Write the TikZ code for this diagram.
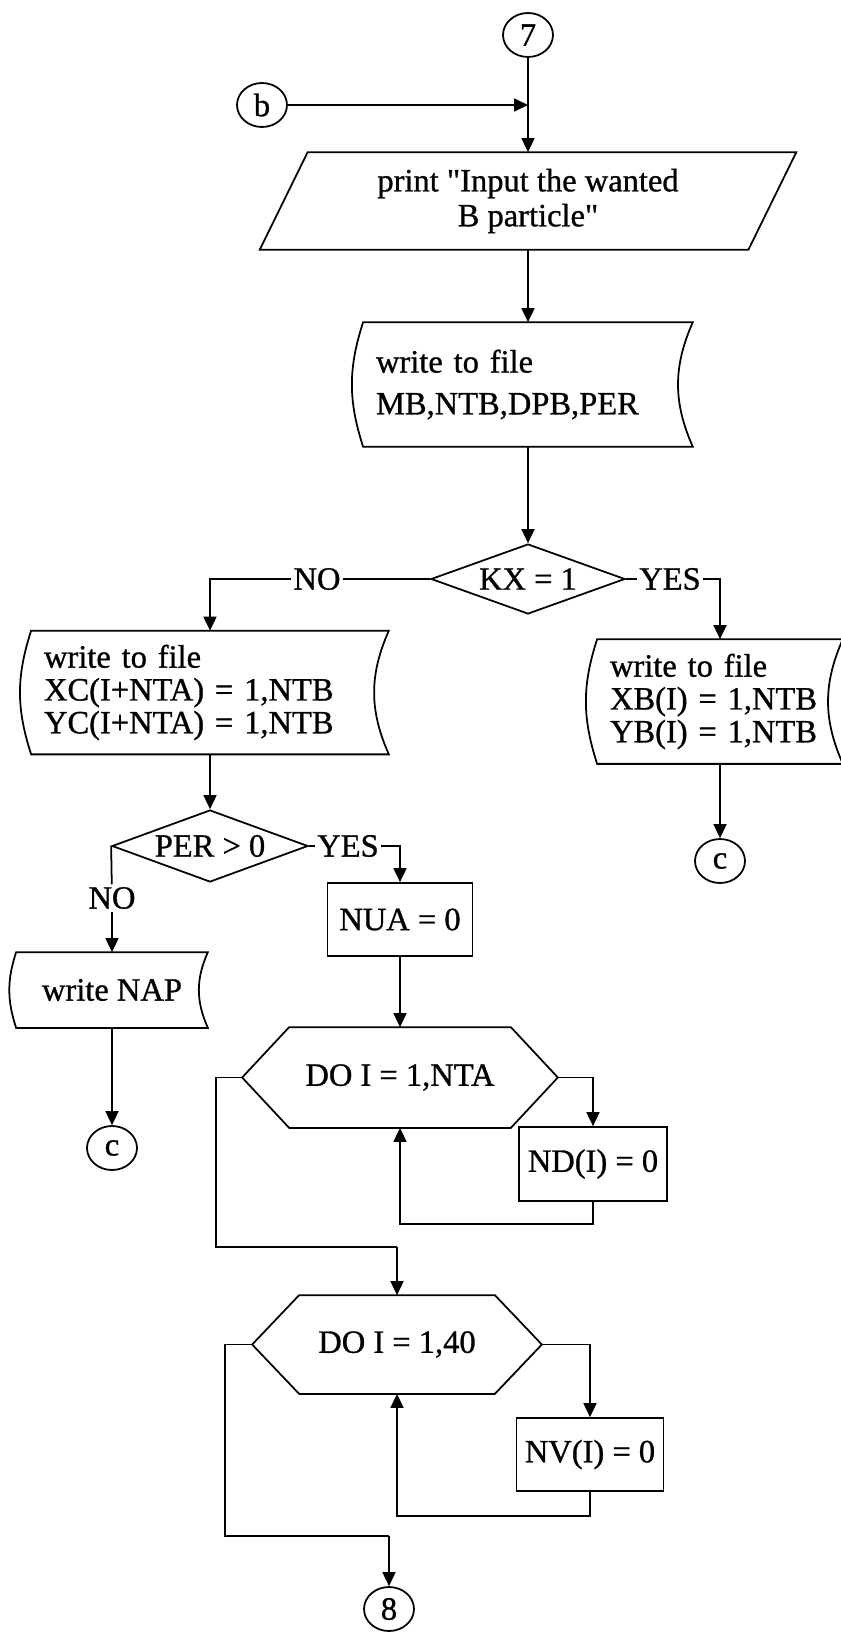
\documentclass[tikz,border=0pt]{standalone}
\usepackage{fontspec}
\setmainfont[UprightFeatures={FakeBold=0.9}]{Liberation Serif}
\usetikzlibrary{shapes.geometric,arrows.meta}
\tikzset{>={Triangle[length=0.28cm,width=0.26cm]}}
\tikzset{
  every node/.style={font=\fontsize{18.5}{19.9}\selectfont},
  link/.style={ellipse,draw,minimum width=1cm,minimum height=0.88cm,inner sep=0pt},
  decide/.style={diamond,draw,inner sep=0pt},
  proc/.style={rectangle,draw,inner sep=0pt},
  store/.style={inner xsep=0.24cm,inner ysep=0pt,align=left,font=\fontsize{18.5}{18.7}\selectfont},
  lbl/.style={inner sep=1pt}
}

\begin{document}
\begin{tikzpicture}[x=0.02cm,y=-0.02cm,line width=1pt]
  \useasboundingbox (0,0) rectangle (841,1632);
  \clip (0,0) rectangle (841,1632);

  % entry
  \node[link] (c7) at (528,35) {7};
  \node[link] (cb) at (262,105) {b};
  \coordinate (jb) at (528,105);

  \node[minimum width=8.78cm,minimum height=1.92cm,inner sep=0pt,align=center] (prt) at (528,201) {print \textquotedbl Input the wanted\\B particle\textquotedbl};
  \draw (prt.north west) -- ([xshift=0.96cm]prt.north east) -- (prt.south east) -- ([xshift=-0.96cm]prt.south west) -- cycle;
  \draw[->] (c7) -- (prt);
  \draw[->] (cb) -- (jb);

  \node[store,text width=6.08cm,minimum height=2.46cm,font=\fontsize{18.5}{23.8}\selectfont] (mb) at (528,384.5) {write to file\\MB,NTB,DPB,PER};
  \draw (mb.north west) to[bend right=18] (mb.south west) -- (mb.south east) to[bend left=24] (mb.north east) -- cycle;
  \draw[->] (prt) -- (mb);

  \node[decide,aspect=2.77,minimum width=3.88cm,minimum height=1.4cm] (kx) at (528,579) {KX = 1};
  \draw[->] (mb) -- (kx);

  % KX branches
  \node[lbl] (no1) at (317,579) {NO};
  \node[lbl] (yes1) at (670,579) {YES};

  \node[store,text width=6.64cm,minimum height=2.44cm] (xc) at (210,692.5) {write to file\\XC(I+NTA) = 1,NTB\\YC(I+NTA) = 1,NTB};
  \draw (xc.north west) to[bend right=18] (xc.south west) -- (xc.south east) to[bend left=24] (xc.north east) -- cycle;

  \node[store,text width=4.4cm,minimum height=2.46cm] (xb) at (720,701.5) {write to file\\XB(I) = 1,NTB\\YB(I) = 1,NTB};
  \draw (xb.north west) to[bend right=18] (xb.south west) -- (xb.south east) to[bend left=24] (xb.north east) -- cycle;

  \draw (kx.west) -- (no1);
  \draw[->] (no1) -| (xc.north);
  \draw (kx.east) -- (yes1);
  \draw[->] (yes1) -| (xb.north);

  \node[link] (cc1) at (720,861) {c};
  \draw[->] (xb) -- (cc1);

  % PER test
  \node[decide,aspect=2.72,minimum width=3.92cm,minimum height=1.44cm] (per) at (210,846) {PER > 0};
  \draw[->] (xc) -- (per);
  \node[lbl] (yes2) at (348,846) {YES};
  \node[lbl] (no2) at (112,898) {NO};

  \node[proc,minimum width=2.9cm,minimum height=1.46cm] (nua) at (400,919.5) {NUA = 0};
  \draw (per.east) -- (yes2);
  \draw[->] (yes2) -| (nua.north);

  \node[minimum width=3.8cm,minimum height=1.48cm,inner sep=0pt] (nap) at (112,990) {write NAP};
  \draw (nap.north west) to[bend right=18] (nap.south west) -- (nap.south east) to[bend left=24] (nap.north east) -- cycle;
  \draw (per.west) -- (no2);
  \draw[->] (no2) -- (nap);

  \node[link] (cc2) at (112,1148) {c};
  \draw[->] (nap) -- (cc2);

  % first loop
  \node[minimum width=4.4cm,minimum height=1.98cm,inner sep=0pt] (h1) at (400,1077.5) {DO I = 1,NTA};
  \coordinate (h1l) at ([xshift=-0.94cm]h1.west);
  \coordinate (h1r) at ([xshift=0.94cm]h1.east);
  \draw (h1.north west) -- (h1.north east) -- (h1r) -- (h1.south east) -- (h1.south west) -- (h1l) -- cycle;
  \draw[->] (nua) -- (h1);

  \node[proc,minimum width=2.96cm,minimum height=1.48cm] (nd) at (593,1164) {ND(I) = 0};
  \draw[->] (h1r) -| (nd.north);
  \draw[->] (nd.south) -- ++(0,22) -| (h1.south);

  % second loop
  \coordinate (j2) at (397,1247);
  \node[minimum width=3.88cm,minimum height=1.94cm,inner sep=0pt] (h2) at (397,1344.5) {DO I = 1,40};
  \coordinate (h2l) at ([xshift=-0.94cm]h2.west);
  \coordinate (h2r) at ([xshift=0.94cm]h2.east);
  \draw (h2.north west) -- (h2.north east) -- (h2r) -- (h2.south east) -- (h2.south west) -- (h2l) -- cycle;
  \draw (h1l) -- ++(-26,0) |- (j2);
  \draw[->] (j2) -- (h2);

  \node[proc,minimum width=2.94cm,minimum height=1.46cm] (nv) at (590,1454.5) {NV(I) = 0};
  \draw[->] (h2r) -| (nv.north);
  \draw[->] (nv.south) -- ++(0,24) -| (h2.south);

  \coordinate (j8) at (389,1536);
  \node[link] (c8) at (389,1609) {8};
  \draw (h2l) -- ++(-27,0) |- (j8);
  \draw[->] (j8) -- (c8);
\end{tikzpicture}
\end{document}
